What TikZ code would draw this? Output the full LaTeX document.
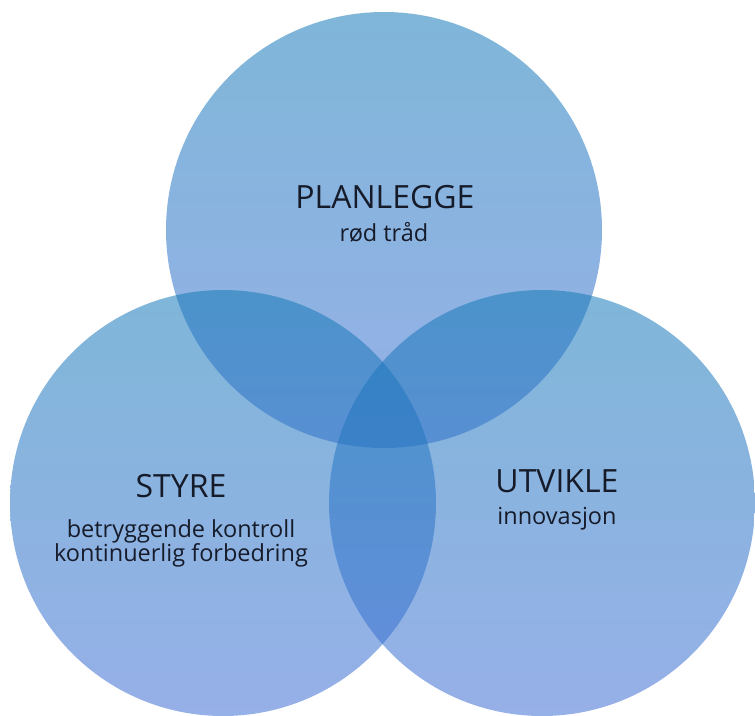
\documentclass[tikz,border=0pt]{standalone}
\usepackage{fontspec}
\setmainfont{Open Sans}
\definecolor{ctop}{RGB}{22,122,184}
\definecolor{cbot}{RGB}{64,111,213}
\definecolor{txt}{RGB}{22,27,42}
\begin{document}
\begin{tikzpicture}[x=1pt,y=-1pt,
  venn/.style={circle, draw=none, inner sep=0pt, top color=ctop, bottom color=cbot, fill opacity=0.55},
  title/.style={anchor=base, inner sep=0pt, text=txt, font=\fontsize{32}{38}\selectfont},
  sub/.style={anchor=base, inner sep=0pt, text=txt, font=\fontsize{23.5}{28}\selectfont}]
\useasboundingbox (0,0) rectangle (755,715);
\node[venn, minimum size=436pt] (plan) at (384,230) {};
\node[venn, minimum size=426pt] (styre) at (223,503) {};
\node[venn, minimum size=426pt] (utv) at (542,503) {};
\node[title] (t1) at (385,208) {PLANLEGGE};
\node[sub] (s1) at (384,241) {rød tråd};
\node[title] (t2) at (181,497) {STYRE};
\node[sub] (s2a) at (181,537) {betryggende kontroll};
\node[sub] (s2b) at (181,561) {kontinuerlig forbedring};
\node[title] (t3) at (557,492) {UTVIKLE};
\node[sub] (s3) at (557,524) {innovasjon};
\end{tikzpicture}
\end{document}
